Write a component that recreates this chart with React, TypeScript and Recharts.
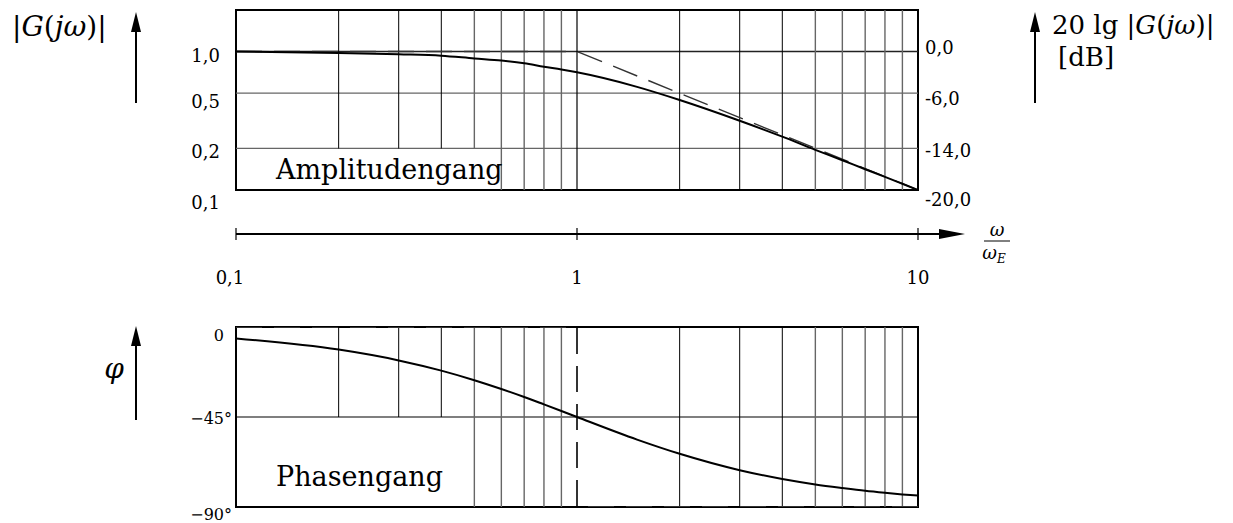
import React from "react";
import {
  LineChart,
  Line,
  XAxis,
  YAxis,
  ReferenceLine,
  ReferenceArea,
} from "recharts";

// frequency points, normalised to the corner frequency
const freqs = [0.1, 0.2, 0.3, 0.4, 0.5, 0.6, 0.7, 0.8, 0.9, 1, 1.5, 2, 3, 4, 5, 6, 7, 8, 9, 10];
// magnitude in dB at those points
const gainDb = [-0.0, -0.2, -0.4, -0.6, -1.0, -1.3, -1.7, -2.2, -2.6, -3.0, -5.1, -7.0, -10.0, -12.3, -14.2, -15.7, -17.0, -18.1, -19.1, -20.0];
// phase in degrees at those points
const phaseDeg = [-5.7, -11.3, -16.7, -21.8, -26.6, -31.0, -35.0, -38.7, -42.0, -45.0, -56.3, -63.4, -71.6, -76.0, -78.7, -80.5, -81.9, -82.9, -83.7, -84.3];

// straight-line approximations
const gainAsymW = [0.1, 1, 10];
const gainAsymDb = [0, 0, -20];
const phaseAsymW = [0.1, 1, 1, 10];
const phaseAsymDeg = [0, 0, -90, -90];

const decadeTicks = [0.1, 1, 10];
const decadeLabels = ["0,1", "1", "10"];

const gainTicks = [0, -6, -14, -20];
const gainLabels = ["1,0", "0,5", "0,2", "0,1"];
const dbLabels = ["0,0", "-6,0", "-14,0", "-20,0"];

const phaseTicks = [0, -45, -90];
const phaseLabels = ["0", "\u221245\u00b0", "\u221290\u00b0"];

// log grid
const gridShort = [0.2, 0.3, 0.4];
const gridLower = [0.5, 0.6, 0.7, 0.8, 0.9];
const gridUpper = [2, 3, 4];
const gridFaint = [5, 6, 7, 8, 9];

const W = 1233;
const FONT = "DejaVu Serif";

const gainData = freqs.map((w, i) => ({ w, db: gainDb[i] }));
const phaseData = freqs.map((w, i) => ({ w, deg: phaseDeg[i] }));
const gainAsym = gainAsymW.map((w, i) => ({ w, db: gainAsymDb[i] }));
const phaseAsym = phaseAsymW.map((w, i) => ({ w, deg: phaseAsymDeg[i] }));

const gainDy = [4, 9, 4, 13];
const dbDy = [-4, 6, 3, 10];
const phaseDy = [8, 1, 7];

const TickText = ({ x, y, text, anchor, size = 18 }: any) => (
  <text
    x={x}
    y={y}
    dy={6}
    textAnchor={anchor}
    style={{ fontFamily: FONT, fontSize: size }}
    fill="#000"
  >
    {text}
  </text>
);

const GainTick = (props: any) => {
  const i = gainTicks.indexOf(props.payload.value);
  return <TickText x={props.x} y={props.y + gainDy[i]} text={gainLabels[i]} anchor="end" />;
};

const DbTick = (props: any) => {
  const i = gainTicks.indexOf(props.payload.value);
  return <TickText x={props.x} y={props.y + dbDy[i]} text={dbLabels[i]} anchor="start" />;
};

const PhaseTick = (props: any) => {
  const i = phaseTicks.indexOf(props.payload.value);
  const shift = i === 0 ? -8 : 0;
  return (
    <TickText x={props.x + shift} y={props.y + phaseDy[i]} text={phaseLabels[i]} anchor="end" size={16} />
  );
};

// decade ticks; the last one also carries the arrow head of the axis
const DecadeTick = (props: any) => {
  const { x, y } = props;
  const i = decadeTicks.indexOf(props.payload.value);
  const shift = i === 0 ? -6 : 0;
  return (
    <g>
      <line x1={x} x2={x} y1={y - 6} y2={y + 6} stroke="#000" strokeWidth={1.2} />
      {i === decadeTicks.length - 1 && (
        <g>
          <line x1={x} x2={x + 24} y1={y} y2={y} stroke="#000" strokeWidth={2} />
          <polygon points={`${x + 47},${y} ${x + 21},${y - 5} ${x + 21},${y + 5}`} fill="#000" />
        </g>
      )}
      <TickText x={x + shift} y={y + 44} text={decadeLabels[i]} anchor="middle" />
    </g>
  );
};

const vLine = (w: number, y0: number, y1: number, color: string, width: number, yAxisId?: any) => (
  <ReferenceLine
    key={`v-${w}-${y0}`}
    yAxisId={yAxisId}
    segment={[
      { x: w, y: y0 },
      { x: w, y: y1 },
    ]}
    stroke={color}
    strokeWidth={width}
    ifOverflow="visible"
  />
);

const UpArrow = ({ x, top, bottom }: { x: number; top: number; bottom: number }) => (
  <g>
    <line x1={x} x2={x} y1={top + 16} y2={bottom} stroke="#000" strokeWidth={2} />
    <polygon points={`${x},${top} ${x - 5},${top + 20} ${x + 5},${top + 20}`} fill="#000" />
  </g>
);

const layer: React.CSSProperties = { position: "absolute", left: 0, top: 0 };
const serif = (size: number, extra: React.CSSProperties = {}): React.CSSProperties => ({
  fontFamily: FONT,
  fontSize: size,
  ...extra,
});

export default function App() {
  return (
    <div style={{ position: "absolute", left: 0, top: 0, width: W, height: 523, background: "#fff" }}>
      {/* magnitude */}
      <div style={layer}>
        <LineChart width={W} height={215} margin={{ top: 10, right: 255, bottom: 25, left: 176 }}>
          <XAxis type="number" dataKey="w" scale="log" domain={[0.1, 10]} allowDataOverflow hide />
          <YAxis
            yAxisId={0}
            type="number"
            domain={[-20, 6]}
            ticks={gainTicks}
            width={60}
            axisLine={false}
            tickLine={false}
            tickSize={0}
            tickMargin={16}
            tick={GainTick}
            allowDataOverflow
          />
          <YAxis
            yAxisId="db"
            orientation="right"
            type="number"
            domain={[-20, 6]}
            ticks={gainTicks}
            width={60}
            axisLine={false}
            tickLine={false}
            tickSize={0}
            tickMargin={7}
            tick={DbTick}
            allowDataOverflow
          />
          <ReferenceLine yAxisId={0} y={-6} stroke="#666" strokeWidth={1.3} />
          <ReferenceLine yAxisId={0} y={-14} stroke="#666" strokeWidth={1.3} />
          <ReferenceLine yAxisId={0} y={0} stroke="#222" strokeWidth={1.5} />
          {gridShort.map((w) => vLine(w, -14, 6, "#000", 1, 0))}
          {vLine(0.5, -14, 6, "#666", 1.4, 0)}
          {gridLower.slice(1).map((w) => vLine(w, -20, 6, "#666", 1.4, 0))}
          {vLine(1, -20, 6, "#000", 1.2, 0)}
          {gridUpper.map((w) => vLine(w, -20, 6, "#000", 1, 0))}
          {gridFaint.map((w) => vLine(w, -20, 6, "#666", 1.4, 0))}
          <Line
            yAxisId="db"
            data={gainAsym}
            dataKey="db"
            type="linear"
            stroke="#333"
            strokeWidth={1.4}
            strokeDasharray="26 12"
            dot={false}
            isAnimationActive={false}
          />
          <Line
            yAxisId={0}
            data={gainData}
            dataKey="db"
            type="monotone"
            stroke="#000"
            strokeWidth={2}
            dot={false}
            isAnimationActive={false}
          />
          <ReferenceArea
            yAxisId={0}
            x1={0.1}
            x2={10}
            y1={-20}
            y2={6}
            fill="none"
            stroke="#000"
            strokeWidth={2}
            ifOverflow="visible"
          />
        </LineChart>
      </div>

      {/* shared frequency axis */}
      <div style={layer}>
        <LineChart width={W} height={310} margin={{ top: 222, right: 315, bottom: 8, left: 236 }}>
          <XAxis
            type="number"
            dataKey="w"
            scale="log"
            domain={[0.1, 10]}
            ticks={decadeTicks}
            height={68}
            axisLine={{ stroke: "#000", strokeWidth: 2 }}
            tickLine={false}
            tickSize={0}
            tickMargin={0}
            tick={DecadeTick}
            allowDataOverflow
          />
          <YAxis hide type="number" domain={[-1, 1]} />
        </LineChart>
      </div>

      {/* phase */}
      <div style={layer}>
        <LineChart width={W} height={523} margin={{ top: 327, right: 315, bottom: 16, left: 176 }}>
          <XAxis type="number" dataKey="w" scale="log" domain={[0.1, 10]} allowDataOverflow hide />
          <YAxis
            type="number"
            domain={[-90, 0]}
            ticks={phaseTicks}
            width={60}
            axisLine={false}
            tickLine={false}
            tickSize={0}
            tickMargin={4}
            tick={PhaseTick}
            allowDataOverflow
          />
          <ReferenceLine y={-45} stroke="#000" strokeWidth={1.2} />
          {gridShort.map((w) => vLine(w, -45, 0, "#000", 1))}
          {gridLower.map((w) => vLine(w, -90, 0, "#666", 1.4))}
          {gridUpper.map((w) => vLine(w, -90, 0, "#000", 1))}
          {gridFaint.map((w) => vLine(w, -90, 0, "#666", 1.4))}
          <ReferenceArea
            x1={0.1}
            x2={10}
            y1={-90}
            y2={0}
            fill="none"
            stroke="#000"
            strokeWidth={2}
            ifOverflow="visible"
          />
          <Line
            data={phaseAsym}
            dataKey="deg"
            type="linear"
            stroke="#333"
            strokeWidth={2}
            strokeDasharray="26 12"
            dot={false}
            isAnimationActive={false}
          />
          <Line
            data={phaseData}
            dataKey="deg"
            type="monotone"
            stroke="#000"
            strokeWidth={2}
            dot={false}
            isAnimationActive={false}
          />
        </LineChart>
      </div>

      {/* axis captions */}
      <svg width={W} height={523} style={{ ...layer, pointerEvents: "none" }}>
        <text x={12} y={36} style={serif(28)} fill="#000">
          |<tspan fontStyle="italic">G</tspan>(<tspan fontStyle="italic">j&#969;</tspan>)|
        </text>
        <UpArrow x={136} top={12} bottom={103} />

        <UpArrow x={1035} top={12} bottom={103} />
        <text x={1052} y={34} style={serif(26)} fill="#000">
          20 lg |<tspan fontStyle="italic">G</tspan>(<tspan fontStyle="italic">j&#969;</tspan>)|
        </text>
        <text x={1058} y={66} style={serif(26)} fill="#000">
          [dB]
        </text>

        <text x={276} y={179} style={serif(27)} fill="#000">
          Amplitudengang
        </text>
        <text x={276} y={486} style={serif(27)} fill="#000">
          Phasengang
        </text>

        <text x={997} y={236} style={serif(18, { fontStyle: "italic" })} textAnchor="middle" fill="#000">
          &#969;
        </text>
        <line x1={984} x2={1010} y1={241} y2={241} stroke="#000" strokeWidth={1} />
        <text x={994} y={259} style={serif(18, { fontStyle: "italic" })} textAnchor="middle" fill="#000">
          &#969;<tspan fontSize={12} dy={4}>E</tspan>
        </text>

        <text x={114} y={378} style={serif(28, { fontStyle: "italic" })} textAnchor="middle" fill="#000">
          &#966;
        </text>
        <UpArrow x={136} top={326} bottom={420} />
      </svg>
    </div>
  );
}
